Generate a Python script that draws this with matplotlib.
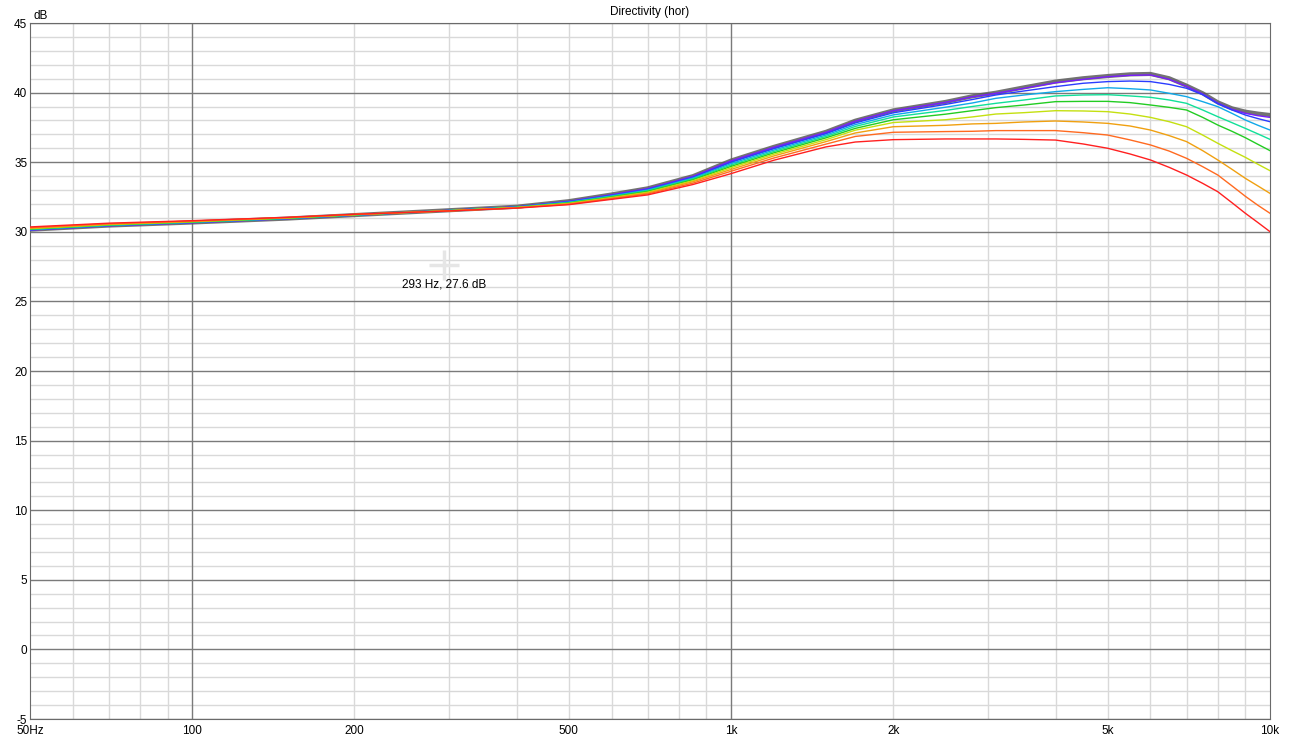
import matplotlib.pyplot as plt
from matplotlib.ticker import FixedLocator, NullFormatter

plt.rcParams['font.family'] = ['Liberation Sans', 'DejaVu Sans']
plt.rcParams['axes.unicode_minus'] = False

freqs = [50, 70, 100, 150, 200, 300, 400, 500, 600, 700, 850, 1000, 1200, 1500, 1700,
         2000, 2500, 2800, 3100, 3500, 4000, 4500, 5000, 5500, 6000, 6500, 7000, 7500,
         8000, 8500, 9000, 9500, 10000]

# on-axis reference (thick gray) and off-axis curves, violet -> red
gray = [30.15, 30.45, 30.67, 30.95, 31.2, 31.55, 31.8, 32.2, 32.68, 33.12, 34.0, 35.12,
        36.1, 37.18, 37.98, 38.72, 39.33, 39.73, 39.99, 40.38, 40.79, 41.03, 41.19, 41.31,
        41.34, 41.03, 40.5, 39.95, 39.3, 38.87, 38.63, 38.49, 38.39]
violet = [30.12, 30.43, 30.65, 30.94, 31.19, 31.54, 31.79, 32.19, 32.66, 33.1, 33.98, 35.1,
          36.07, 37.15, 37.95, 38.7, 39.3, 39.7, 39.95, 40.31, 40.71, 40.95, 41.14, 41.24,
          41.27, 40.95, 40.45, 39.9, 39.25, 38.8, 38.51, 38.34, 38.22]
blue = [30.14, 30.45, 30.67, 30.95, 31.2, 31.54, 31.78, 32.16, 32.62, 33.05, 33.92, 35.0,
        35.97, 37.05, 37.82, 38.55, 39.15, 39.5, 39.83, 40.12, 40.43, 40.67, 40.79, 40.83,
        40.79, 40.59, 40.31, 39.85, 39.2, 38.75, 38.39, 38.13, 37.91]
sky = [30.16, 30.46, 30.68, 30.96, 31.2, 31.53, 31.77, 32.13, 32.58, 33.0, 33.86, 34.9,
       35.87, 36.95, 37.7, 38.4, 38.95, 39.25, 39.59, 39.83, 40.07, 40.23, 40.35, 40.28,
       40.19, 39.95, 39.71, 39.35, 38.99, 38.51, 38.03, 37.65, 37.31]
aqua = [30.18, 30.48, 30.7, 30.97, 31.21, 31.53, 31.76, 32.1, 32.54, 32.95, 33.8, 34.8,
        35.77, 36.85, 37.57, 38.25, 38.72, 39.0, 39.23, 39.47, 39.76, 39.83, 39.85, 39.76,
        39.66, 39.47, 39.23, 38.75, 38.27, 37.84, 37.43, 37.03, 36.64]
green = [30.2, 30.5, 30.71, 30.98, 31.22, 31.52, 31.75, 32.07, 32.5, 32.9, 33.74, 34.7,
         35.67, 36.75, 37.43, 38.05, 38.45, 38.7, 38.92, 39.11, 39.35, 39.37, 39.37, 39.28,
         39.11, 38.94, 38.75, 38.22, 37.67, 37.22, 36.76, 36.28, 35.83]
yellowgreen = [30.23, 30.52, 30.73, 31.0, 31.23, 31.52, 31.74, 32.04, 32.46, 32.84, 33.67, 34.6,
               35.57, 36.62, 37.3, 37.85, 38.05, 38.25, 38.46, 38.56, 38.7, 38.68, 38.63, 38.46,
               38.22, 37.91, 37.55, 36.95, 36.36, 35.83, 35.35, 34.85, 34.39]
orange = [30.26, 30.55, 30.75, 31.01, 31.24, 31.51, 31.73, 32.01, 32.42, 32.78, 33.6, 34.48,
          35.45, 36.48, 37.1, 37.55, 37.65, 37.75, 37.79, 37.89, 37.96, 37.89, 37.79, 37.6,
          37.31, 36.91, 36.48, 35.83, 35.16, 34.49, 33.84, 33.29, 32.76]
orangered = [30.3, 30.58, 30.77, 31.02, 31.25, 31.5, 31.72, 31.98, 32.38, 32.72, 33.5, 34.35,
             35.3, 36.3, 36.85, 37.15, 37.2, 37.22, 37.27, 37.27, 37.27, 37.12, 36.95, 36.6,
             36.24, 35.8, 35.28, 34.68, 34.08, 33.3, 32.55, 31.9, 31.33]
red = [30.35, 30.62, 30.8, 31.04, 31.26, 31.5, 31.7, 31.95, 32.33, 32.65, 33.4, 34.18,
       35.14, 36.1, 36.45, 36.62, 36.67, 36.67, 36.67, 36.64, 36.59, 36.31, 36.0, 35.59,
       35.16, 34.63, 34.08, 33.48, 32.88, 32.09, 31.33, 30.66, 30.01]

series = [violet, blue, sky, aqua, green, yellowgreen, orange, orangered, red]
colors = ['#7a1cff', '#2a3cff', '#10a8e8', '#10e098', '#22cc22', '#c4e010',
          '#f0a010', '#ff6a20', '#ff2020']

xticks = [50, 100, 200, 500, 1000, 2000, 5000, 10000]
xlabels = ['50Hz', '100', '200', '500', '1k', '2k', '5k', '10k']
yticks = list(range(-5, 46, 5))

fig = plt.figure(figsize=(12.93, 7.45), dpi=100)
ax = fig.add_axes([30 / 1293, 26 / 745, 1240 / 1293, 696 / 745])
ax.set_xscale('log')
ax.set_xlim(50, 10000)
ax.set_ylim(-5, 45)

# grid
minor_x = [60, 70, 80, 90] + [k * 100 for k in range(2, 10)] + [k * 1000 for k in range(2, 10)]
for f in minor_x:
    ax.axvline(f, color='#d9d9d9', lw=1, zorder=0)
for f in [100, 1000]:
    ax.axvline(f, color='#7a7a7a', lw=1, zorder=0.5)
for v in range(-5, 46):
    if v % 5:
        ax.axhline(v, color='#d9d9d9', lw=1, zorder=0)
    else:
        ax.axhline(v, color='#7a7a7a', lw=1, zorder=0.5)

ax.plot(freqs, gray, color='#5a5a5a', lw=3, alpha=0.85, zorder=2)
for vals, c in zip(series, colors):
    ax.plot(freqs, vals, color=c, lw=1, zorder=3)

ax.xaxis.set_major_locator(FixedLocator(xticks))
ax.set_xticklabels(xlabels)
ax.xaxis.set_minor_formatter(NullFormatter())
ax.xaxis.set_minor_locator(FixedLocator([]))
ax.set_yticks(yticks)
ax.tick_params(length=0, labelsize=8.5, pad=4)
ax.tick_params(axis='y', pad=2)
for s in ax.spines.values():
    s.set_color('#6a6a6a')

fig.text(33 / 1293, 1 - 16 / 745, 'dB', fontsize=8.5, ha='left', va='center')
fig.text(650 / 1293, 1 - 12 / 745, 'Directivity (hor)', fontsize=8.5, ha='center', va='center')

# cursor readout
ax.plot([293], [27.6], marker='+', markersize=22, mew=2.5, color='#e6e6e6', zorder=1)
ax.annotate('293 Hz, 27.6 dB', xy=(293, 27.6), xytext=(0, -14), textcoords='offset points',
            ha='center', va='center', fontsize=8.5)

fig.savefig('out.png', dpi=100)
